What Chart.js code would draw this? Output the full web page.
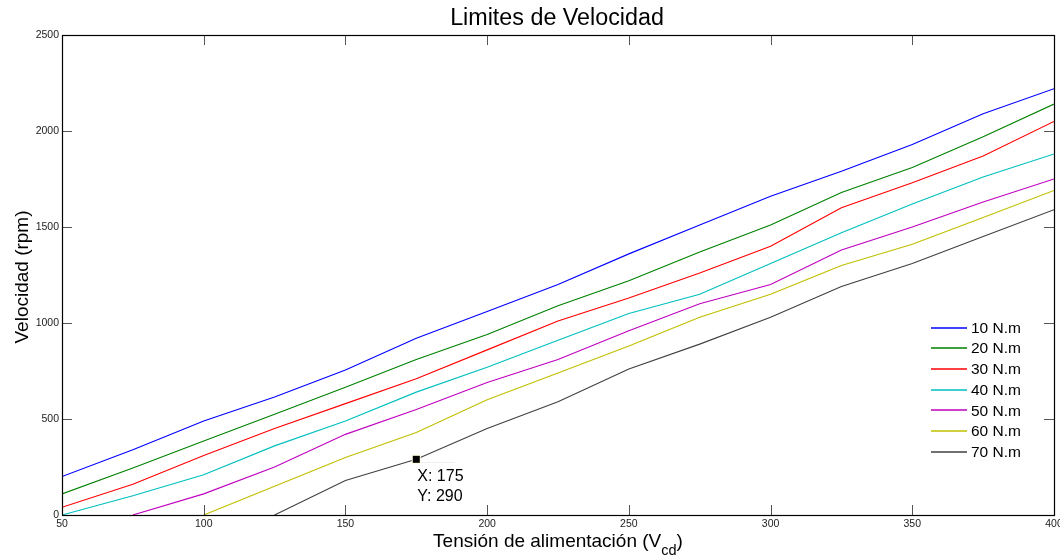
<!DOCTYPE html>
<html>
<head>
<meta charset="utf-8">
<script src="https://cdn.jsdelivr.net/npm/chart.js@4.4.1/dist/chart.umd.min.js"></script>
<style>
  html, body { margin: 0; padding: 0; background: #fff; }
  #wrap { width: 1060px; height: 558px; position: relative; }
</style>
</head>
<body>
<div id="wrap"><canvas id="c" width="1060" height="558"></canvas></div>
<script>
// ---- data ----
const xValues = [50, 75, 100, 125, 150, 175, 200, 225, 250, 275, 300, 325, 350, 375, 400];
const s10 = [200, 340, 490, 615, 755, 920, 1060, 1200, 1360, 1510, 1660, 1790, 1930, 2090, 2220];
const s20 = [110, 245, 385, 525, 665, 810, 940, 1090, 1220, 1370, 1510, 1680, 1810, 1970, 2140];
const s30 = [40, 160, 310, 450, 580, 710, 860, 1010, 1130, 1260, 1400, 1600, 1730, 1870, 2050];
const s40 = [0, 100, 210, 360, 490, 640, 770, 910, 1050, 1150, 1310, 1470, 1620, 1760, 1880];
const s50 = [null, 0, 110, 250, 420, 550, 690, 810, 960, 1100, 1200, 1380, 1500, 1630, 1750];
const s60 = [null, null, 0, 150, 300, 430, 600, 740, 880, 1030, 1150, 1300, 1410, 1550, 1690];
const s70 = [null, null, null, 0, 180, 290, 450, 590, 760, 890, 1030, 1190, 1310, 1450, 1590];
const seriesLabels = ['10 N.m', '20 N.m', '30 N.m', '40 N.m', '50 N.m', '60 N.m', '70 N.m'];
const seriesValues = [s10, s20, s30, s40, s50, s60, s70];
const xTicks = [50, 100, 150, 200, 250, 300, 350, 400];
const yTicks = [0, 500, 1000, 1500, 2000, 2500];
const titleText = 'Limites de Velocidad';
const xTitleMain = 'Tensión de alimentación (V';
const xTitleSub = 'cd';
const xTitleEnd = ')';
const yTitleText = 'Velocidad (rpm)';
const tipX = 175, tipY = 290;

const colors = ['#0000ff', '#008000', '#ff0000', '#00bfbf', '#bf00bf', '#bfbf00', '#404040'];
const FONT = '"Liberation Sans", Arial, Helvetica, sans-serif';

const datasets = seriesValues.map((vals, i) => ({
  label: seriesLabels[i],
  data: xValues.map((x, j) => ({ x: x, y: vals[j] })),
  borderColor: colors[i],
  backgroundColor: colors[i],
  borderWidth: 1.1,
  pointRadius: 0,
  tension: 0,
  fill: false,
  spanGaps: false
}));

const decor = {
  id: 'decor',
  afterDatasetsDraw(chart) {
    const ctx = chart.ctx;
    const a = chart.chartArea;
    const xs = chart.scales.x, ys = chart.scales.y;
    ctx.save();
    // ticks (inward, all four sides)
    ctx.strokeStyle = '#555';
    ctx.lineWidth = 1;
    const tl = 10;
    ctx.beginPath();
    xTicks.forEach(v => {
      const px = Math.round(xs.getPixelForValue(v)) + 0.5;
      ctx.moveTo(px, a.bottom); ctx.lineTo(px, a.bottom - tl);
      ctx.moveTo(px, a.top); ctx.lineTo(px, a.top + tl);
    });
    yTicks.forEach(v => {
      const py = Math.round(ys.getPixelForValue(v)) + 0.5;
      ctx.moveTo(a.left, py); ctx.lineTo(a.left + tl, py);
      ctx.moveTo(a.right, py); ctx.lineTo(a.right - tl, py);
    });
    ctx.stroke();
    // box
    ctx.strokeStyle = '#000';
    ctx.lineWidth = 1.2;
    ctx.strokeRect(Math.round(a.left) + 0.5, Math.round(a.top) + 0.5,
                   Math.round(a.right - a.left), Math.round(a.bottom - a.top));
    // title
    const cx = (a.left + a.right) / 2;
    ctx.fillStyle = '#000';
    ctx.textAlign = 'center';
    ctx.textBaseline = 'alphabetic';
    ctx.font = '23.3px ' + FONT;
    ctx.fillText(titleText, cx - 1, 24.5);
    // x title with subscript
    ctx.font = '19px ' + FONT;
    const w1 = ctx.measureText(xTitleMain).width;
    const w3 = ctx.measureText(xTitleEnd).width;
    ctx.font = '14.5px ' + FONT;
    const w2 = ctx.measureText(xTitleSub).width;
    const total = w1 + w2 + w3;
    let sx = cx - total / 2;
    const base = 547;
    ctx.textAlign = 'left';
    ctx.font = '19px ' + FONT;
    ctx.fillText(xTitleMain, sx, base);
    ctx.font = '14.5px ' + FONT;
    ctx.fillText(xTitleSub, sx + w1, base + 8);
    ctx.font = '19px ' + FONT;
    ctx.fillText(xTitleEnd, sx + w1 + w2, base);
    // y title
    ctx.save();
    ctx.translate(28, (a.top + a.bottom) / 2 + 2);
    ctx.rotate(-Math.PI / 2);
    ctx.textAlign = 'center';
    ctx.font = '19px ' + FONT;
    ctx.fillText(yTitleText, 0, 0);
    ctx.restore();
    // legend
    ctx.font = '15.5px ' + FONT;
    ctx.textBaseline = 'middle';
    ctx.textAlign = 'left';
    seriesLabels.forEach((lab, i) => {
      const y = 327.5 + i * 20.7;
      ctx.strokeStyle = colors[i];
      ctx.lineWidth = 1.5;
      ctx.beginPath();
      ctx.moveTo(931, Math.round(y));
      ctx.lineTo(967, Math.round(y));
      ctx.stroke();
      ctx.fillStyle = '#000';
      ctx.fillText(lab, 971, y + 1);
    });
    // data tip
    const tx = xs.getPixelForValue(tipX), ty = ys.getPixelForValue(tipY);
    ctx.strokeStyle = '#eeeeee';
    ctx.lineWidth = 1;
    ctx.beginPath();
    ctx.moveTo(tx, Math.round(ty) + 3.5);
    ctx.lineTo(tx + 38, Math.round(ty) + 3.5);
    ctx.stroke();
    ctx.fillStyle = '#fffbe0';
    ctx.fillRect(tx - 4.5, ty - 4.5, 9, 9);
    ctx.fillStyle = '#000';
    ctx.fillRect(tx - 3.5, ty - 3.5, 7, 7);
    ctx.font = '16px ' + FONT;
    ctx.textBaseline = 'alphabetic';
    ctx.fillText('X: ' + tipX, tx + 1, ty + 22);
    ctx.fillText('Y: ' + tipY, tx + 1, ty + 41.5);
    ctx.restore();
  }
};

new Chart(document.getElementById('c'), {
  type: 'line',
  data: { datasets: datasets },
  options: {
    responsive: false,
    animation: false,
    devicePixelRatio: 1,
    layout: { padding: { top: 35, right: 6, left: 0, bottom: 0 } },
    plugins: { legend: { display: false }, title: { display: false }, tooltip: { enabled: false } },
    scales: {
      x: {
        type: 'linear', min: 50, max: 400,
        grid: { display: false, drawTicks: false }, border: { display: false },
        afterBuildTicks: s => { s.ticks = xTicks.map(v => ({ value: v })); },
        afterFit: s => { s.height = 43; s.paddingLeft = 0; s.paddingRight = 0; },
        ticks: { color: '#222', padding: 3, maxRotation: 0, font: { family: FONT, size: 10.5 },
                 callback: v => String(v) }
      },
      y: {
        type: 'linear', min: 0, max: 2500,
        grid: { display: false, drawTicks: false }, border: { display: false },
        afterBuildTicks: s => { s.ticks = yTicks.map(v => ({ value: v })); },
        afterFit: s => { s.width = 62; s.paddingTop = 0; s.paddingBottom = 0; },
        ticks: { color: '#222', padding: 3, font: { family: FONT, size: 10.5 },
                 callback: v => String(v) }
      }
    }
  },
  plugins: [decor]
});
</script>
</body>
</html>
